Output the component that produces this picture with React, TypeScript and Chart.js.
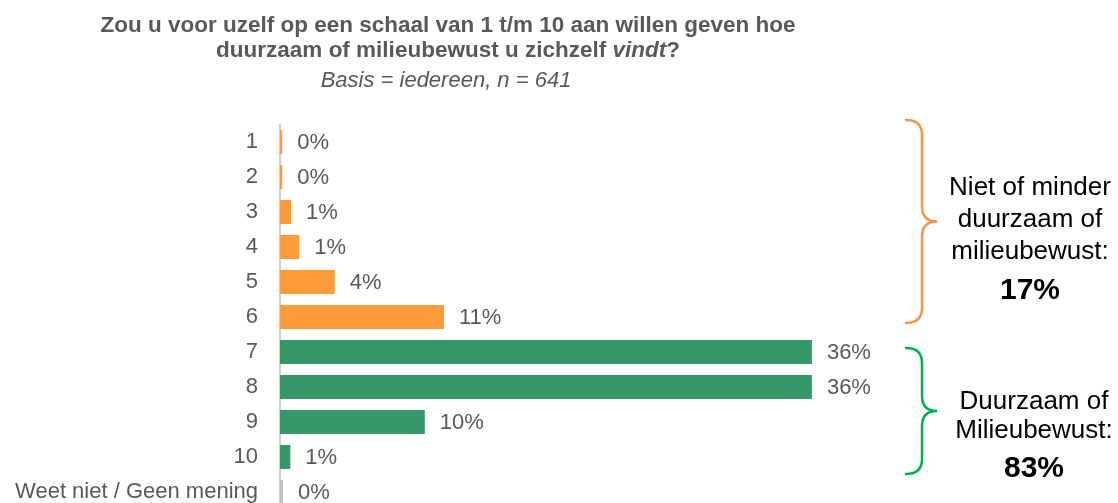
import React, { useEffect, useRef } from 'react';
import { Chart, registerables } from 'chart.js';

Chart.register(...registerables);

// ---- data ----
const categories = ['1', '2', '3', '4', '5', '6', '7', '8', '9', '10', 'Weet niet / Geen mening'];
const values = [0.15, 0.15, 0.75, 1.3, 3.7, 11.1, 36, 36, 9.8, 0.7, 0.2];
const groups = ['low', 'low', 'low', 'low', 'low', 'low', 'high', 'high', 'high', 'high', 'none'];

const titleLine1 = 'Zou u voor uzelf op een schaal van 1 t/m 10 aan willen geven hoe';
const titleLine2Start = 'duurzaam of milieubewust u zichzelf ';
const titleLine2Italic = 'vindt';
const titleLine2End = '?';
const subtitle = 'Basis = iedereen, n = 641';

const lowLines = ['Niet of minder', 'duurzaam of', 'milieubewust:'];
const lowTotal = '17%';
const highLines = ['Duurzaam of', 'Milieubewust:'];
const highTotal = '83%';

// ---- styles ----
const FONT = '"Liberation Sans", Arial, Helvetica, sans-serif';
const GROUP_COLORS: Record<string, string> = { low: '#FF9B38', high: '#349966', none: '#BFBFBF' };
const TEXT_GRAY = '#595959';

function drawBrace(ctx: CanvasRenderingContext2D, top: number, bottom: number, color: string) {
  const x0 = 906;
  const xv = 922;
  const xt = 937;
  const r = 15;
  const mid = (top + bottom) / 2;
  ctx.save();
  ctx.strokeStyle = color;
  ctx.lineWidth = 2.5;
  ctx.lineCap = 'round';
  ctx.beginPath();
  ctx.moveTo(x0, top);
  ctx.quadraticCurveTo(xv, top, xv, top + r);
  ctx.lineTo(xv, mid - r);
  ctx.quadraticCurveTo(xv, mid, xt, mid);
  ctx.quadraticCurveTo(xv, mid, xv, mid + r);
  ctx.lineTo(xv, bottom - r);
  ctx.quadraticCurveTo(xv, bottom, x0, bottom);
  ctx.stroke();
  ctx.restore();
}

const overlayPlugin = {
  id: 'overlay',
  afterDatasetsDraw(chart: any) {
    const ctx: CanvasRenderingContext2D = chart.ctx;
    const meta = chart.getDatasetMeta(0);
    ctx.save();

    // value labels
    ctx.font = `22px ${FONT}`;
    ctx.fillStyle = TEXT_GRAY;
    ctx.textBaseline = 'middle';
    ctx.textAlign = 'left';
    meta.data.forEach((bar: any, i: number) => {
      ctx.fillText(Math.round(values[i]) + '%', bar.x + 15, bar.y + 1);
    });

    // title
    const cx = 448;
    ctx.textBaseline = 'alphabetic';
    ctx.textAlign = 'center';
    ctx.fillStyle = TEXT_GRAY;
    ctx.font = `bold 22.5px ${FONT}`;
    ctx.fillText(titleLine1, cx, 32);

    const fB = `bold 22.5px ${FONT}`;
    const fBI = `italic bold 22.5px ${FONT}`;
    ctx.font = fB;
    const w1 = ctx.measureText(titleLine2Start).width;
    const w3 = ctx.measureText(titleLine2End).width;
    ctx.font = fBI;
    const w2 = ctx.measureText(titleLine2Italic).width;
    let x = cx - (w1 + w2 + w3) / 2;
    ctx.textAlign = 'left';
    ctx.font = fB;
    ctx.fillText(titleLine2Start, x, 57);
    x += w1;
    ctx.font = fBI;
    ctx.fillText(titleLine2Italic, x, 57);
    x += w2;
    ctx.font = fB;
    ctx.fillText(titleLine2End, x, 57);

    ctx.textAlign = 'center';
    ctx.font = `italic 22px ${FONT}`;
    ctx.fillText(subtitle, cx - 2, 87);

    // braces
    const ys = chart.scales.y;
    drawBrace(ctx, ys.getPixelForValue(0) - 22, ys.getPixelForValue(5) + 6, '#F7964A');
    drawBrace(ctx, ys.getPixelForValue(6) - 4, ys.getPixelForValue(9) + 17, '#00B050');

    // group annotations
    ctx.fillStyle = '#000000';
    ctx.textAlign = 'center';
    ctx.font = `26px ${FONT}`;
    const lowBase = [195, 227, 259];
    lowLines.forEach((t, i) => ctx.fillText(t, 1030, lowBase[i]));
    ctx.font = `bold 30px ${FONT}`;
    ctx.fillText(lowTotal, 1030, 299);

    ctx.font = `26px ${FONT}`;
    const highBase = [409, 438];
    highLines.forEach((t, i) => ctx.fillText(t, 1034, highBase[i]));
    ctx.font = `bold 30px ${FONT}`;
    ctx.fillText(highTotal, 1034, 477);

    ctx.restore();
  },
};

export default function App() {
  const canvasRef = useRef<HTMLCanvasElement | null>(null);

  useEffect(() => {
    const canvas = canvasRef.current;
    if (!canvas) return;
    const chart = new Chart(canvas, {
      type: 'bar',
      data: {
        labels: categories,
        datasets: [
          {
            data: values,
            backgroundColor: groups.map((g) => GROUP_COLORS[g]),
            borderWidth: 0,
            categoryPercentage: 1,
            barPercentage: 0.686,
          },
        ],
      },
      options: {
        indexAxis: 'y',
        responsive: false,
        maintainAspectRatio: false,
        animation: false,
        devicePixelRatio: 1,
        layout: { padding: { top: 124.5, bottom: 10.5, left: 0, right: 247 } },
        plugins: {
          legend: { display: false },
          title: { display: false },
          tooltip: { enabled: false },
        },
        scales: {
          x: { display: false, min: 0, max: 40 },
          y: {
            type: 'category',
            afterFit: (s: any) => {
              s.width = 280;
              s.paddingTop = 0;
              s.paddingBottom = 0;
            },
            grid: { display: false, drawTicks: false },
            border: { display: true, color: '#D0D0D0', width: 2 },
            ticks: {
              color: TEXT_GRAY,
              padding: 22,
              font: { family: FONT, size: 22 },
            },
          },
        },
      },
      plugins: [overlayPlugin],
    });
    return () => chart.destroy();
  }, []);

  return (
    <div
      style={{
        position: 'fixed',
        left: 0,
        top: 0,
        width: 1118,
        height: 503,
        overflow: 'hidden',
        background: '#ffffff',
      }}
    >
      <canvas ref={canvasRef} width={1118} height={520} style={{ display: 'block', width: 1118, height: 520 }} />
    </div>
  );
}
